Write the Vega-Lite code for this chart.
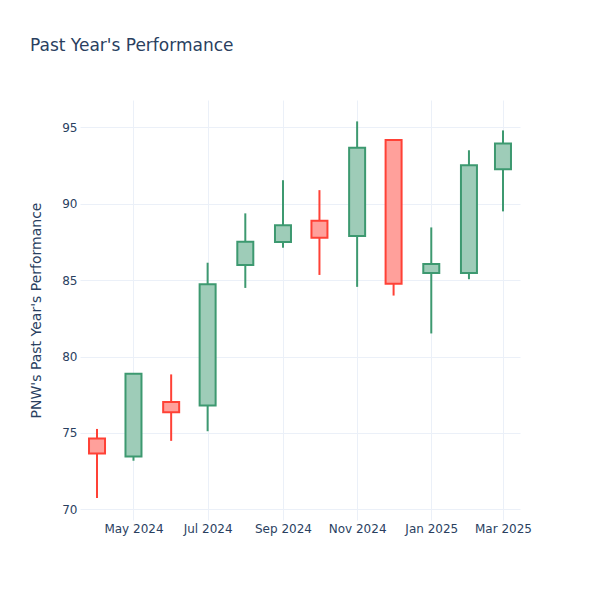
{
  "$schema": "https://vega.github.io/schema/vega-lite/v6.json",
  "autosize": {"type": "none"},
  "width": 440,
  "height": 420,
  "padding": {"left": 80, "top": 100, "right": 80, "bottom": 80},
  "background": "white",
  "title": {
    "text": "Past Year's Performance",
    "anchor": "start",
    "frame": "group",
    "orient": "top",
    "dx": -50,
    "offset": 37,
    "baseline": "middle",
    "font": "DejaVu Sans",
    "fontSize": 17,
    "fontWeight": "normal",
    "color": "#2a3f5f"
  },
  "config": {
    "view": {"stroke": null},
    "axis": {
      "labelFont": "DejaVu Sans",
      "titleFont": "DejaVu Sans",
      "labelColor": "#2a3f5f",
      "titleColor": "#2a3f5f",
      "labelFontSize": 12,
      "titleFontSize": 14,
      "titleFontWeight": "normal",
      "gridColor": "#EBF0F8",
      "gridWidth": 1,
      "gridOpacity": 1,
      "ticks": false,
      "domain": false
    }
  },
  "data": {
    "values": [
      {"date": "2024-04-01", "open": 74.63, "high": 75.26, "low": 70.74, "close": 73.66, "dir": "down"},
      {"date": "2024-05-01", "open": 73.46, "high": 78.9, "low": 73.18, "close": 78.88, "dir": "up"},
      {"date": "2024-06-01", "open": 77.03, "high": 78.83, "low": 74.48, "close": 76.35, "dir": "down"},
      {"date": "2024-07-01", "open": 76.79, "high": 86.14, "low": 75.11, "close": 84.73, "dir": "up"},
      {"date": "2024-08-01", "open": 85.99, "high": 89.37, "low": 84.49, "close": 87.51, "dir": "up"},
      {"date": "2024-09-01", "open": 87.49, "high": 91.54, "low": 87.12, "close": 88.6, "dir": "up"},
      {"date": "2024-10-01", "open": 88.89, "high": 90.89, "low": 85.34, "close": 87.78, "dir": "down"},
      {"date": "2024-11-01", "open": 87.89, "high": 95.39, "low": 84.56, "close": 93.67, "dir": "up"},
      {"date": "2024-12-01", "open": 94.17, "high": 94.2, "low": 83.99, "close": 84.77, "dir": "down"},
      {"date": "2025-01-01", "open": 85.47, "high": 88.45, "low": 81.51, "close": 86.06, "dir": "up"},
      {"date": "2025-02-01", "open": 85.47, "high": 93.5, "low": 85.06, "close": 92.52, "dir": "up"},
      {"date": "2025-03-01", "open": 92.26, "high": 94.8, "low": 89.5, "close": 93.94, "dir": "up"}
    ]
  },
  "encoding": {
    "x": {
      "field": "date",
      "type": "temporal",
      "scale": {"type": "utc", "padding": 0, "domain": [{"year": 2024, "month": 3, "date": 18, "utc": true}, {"year": 2025, "month": 3, "date": 15, "utc": true}]},
      "axis": {
        "title": null,
        "format": "%b %Y",
        "labelPadding": 3,
        "values": [
          {"year": 2024, "month": 5, "date": 1, "utc": true},
          {"year": 2024, "month": 7, "date": 1, "utc": true},
          {"year": 2024, "month": 9, "date": 1, "utc": true},
          {"year": 2024, "month": 11, "date": 1, "utc": true},
          {"year": 2025, "month": 1, "date": 1, "utc": true},
          {"year": 2025, "month": 3, "date": 1, "utc": true}
        ]
      }
    }
  },
  "layer": [
    {
      "mark": {"type": "rule", "strokeWidth": 2},
      "encoding": {
        "y": {
          "field": "low",
          "type": "quantitative",
          "scale": {"domain": [69.3, 96.79], "nice": false, "zero": false},
          "axis": {"title": "PNW's Past Year's Performance", "values": [70, 75, 80, 85, 90, 95], "labelPadding": 3, "titlePadding": 18}
        },
        "y2": {"field": "high"},
        "color": {"field": "dir", "type": "nominal", "scale": {"domain": ["up", "down"], "range": ["#3D9970", "#FF4136"]}, "legend": null}
      }
    },
    {
      "mark": {"type": "bar", "size": 16, "strokeWidth": 2},
      "encoding": {
        "y": {"field": "open", "type": "quantitative"},
        "y2": {"field": "close"},
        "fill": {"field": "dir", "type": "nominal", "scale": {"domain": ["up", "down"], "range": ["#9ECCB8", "#FFA09B"]}, "legend": null},
        "stroke": {"field": "dir", "type": "nominal", "scale": {"domain": ["up", "down"], "range": ["#3D9970", "#FF4136"]}, "legend": null}
      }
    }
  ]
}
